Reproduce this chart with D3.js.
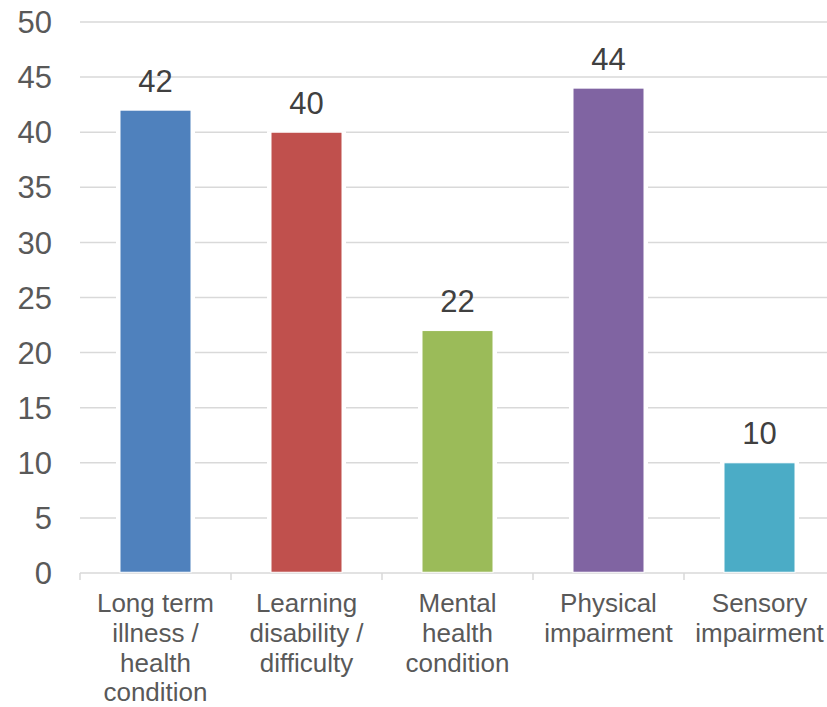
<!DOCTYPE html>
<html>
<head>
<meta charset="utf-8">
<script src="https://cdn.jsdelivr.net/npm/d3@7"></script>
<style>
  html, body { margin: 0; padding: 0; background: #fff; }
  svg { display: block; font-family: "Liberation Sans", Arial, sans-serif; }
</style>
</head>
<body>
<svg id="chart" width="827" height="707"></svg>
<script>
const categories = [
  ["Long term", "illness /", "health", "condition"],
  ["Learning", "disability /", "difficulty"],
  ["Mental", "health", "condition"],
  ["Physical", "impairment"],
  ["Sensory", "impairment"]
];
const categoryKeys = ["Long term illness / health condition", "Learning disability / difficulty", "Mental health condition", "Physical impairment", "Sensory impairment"];
const values = [42, 40, 22, 44, 10];
const colors = ["#4F81BD", "#C0504D", "#9BBB59", "#8064A2", "#4BACC6"];
const yTicks = [0, 5, 10, 15, 20, 25, 30, 35, 40, 45, 50];

(function () {
const svg = d3.select("#chart");
const pLeft = 80, pRight = 835, pTop = 22, pBottom = 573;

const x = d3.scaleBand().domain(categoryKeys).range([pLeft, pRight]).paddingInner(0).paddingOuter(0);
const y = d3.scaleLinear().domain([0, 50]).range([pBottom, pTop]);
const barW = 71;

// gridlines
svg.append("g").selectAll("line").data(yTicks.filter(d => d > 0)).join("line")
  .attr("x1", pLeft).attr("x2", pRight)
  .attr("y1", d => y(d)).attr("y2", d => y(d))
  .attr("stroke", "#D9D9D9").attr("stroke-width", 1.5);

// y tick labels
svg.append("g").selectAll("text").data(yTicks).join("text")
  .attr("x", 52).attr("y", d => y(d))
  .attr("dy", "0.36em")
  .attr("text-anchor", "end")
  .attr("font-size", 31)
  .attr("fill", "#595959")
  .text(d => d);

// x axis line
svg.append("line")
  .attr("x1", pLeft).attr("x2", pRight)
  .attr("y1", pBottom).attr("y2", pBottom)
  .attr("stroke", "#D9D9D9").attr("stroke-width", 1.5);
const boundaries = d3.range(categoryKeys.length + 1).map(i => pLeft + i * x.bandwidth());
svg.append("g").selectAll("line").data(boundaries).join("line")
  .attr("x1", d => d).attr("x2", d => d)
  .attr("y1", pBottom).attr("y2", pBottom + 7)
  .attr("stroke", "#D9D9D9").attr("stroke-width", 1.5);

// white halos behind bars
const cx = k => x(k) + x.bandwidth() / 2;
svg.append("g").selectAll("rect").data(values).join("rect")
  .attr("x", (d, i) => cx(categoryKeys[i]) - barW / 2 - 4)
  .attr("width", barW + 8)
  .attr("y", d => y(d) - 1)
  .attr("height", d => pBottom - y(d) - 0.5)
  .attr("fill", "#fff");

// bars
svg.append("g").selectAll("rect").data(values).join("rect")
  .attr("x", (d, i) => cx(categoryKeys[i]) - barW / 2)
  .attr("width", barW)
  .attr("y", d => y(d))
  .attr("height", d => pBottom - y(d) - 0.75)
  .attr("fill", (d, i) => colors[i])
  .attr("stroke", "#fff").attr("stroke-width", 1);

// data labels
svg.append("g").selectAll("text").data(values).join("text")
  .attr("x", (d, i) => cx(categoryKeys[i]))
  .attr("y", d => y(d) - 18.5)
  .attr("text-anchor", "middle")
  .attr("font-size", 31)
  .attr("fill", "#404040")
  .text(d => d);

// category labels
const cg = svg.append("g").selectAll("text").data(categories).join("text")
  .attr("text-anchor", "middle")
  .attr("font-size", 26)
  .attr("fill", "#595959");
cg.each(function(lines, i) {
  d3.select(this).selectAll("tspan").data(lines).join("tspan")
    .attr("x", cx(categoryKeys[i]))
    .attr("y", (l, j) => 612 + j * 29.8)
    .text(l => l);
});
})();
</script>
</body>
</html>
